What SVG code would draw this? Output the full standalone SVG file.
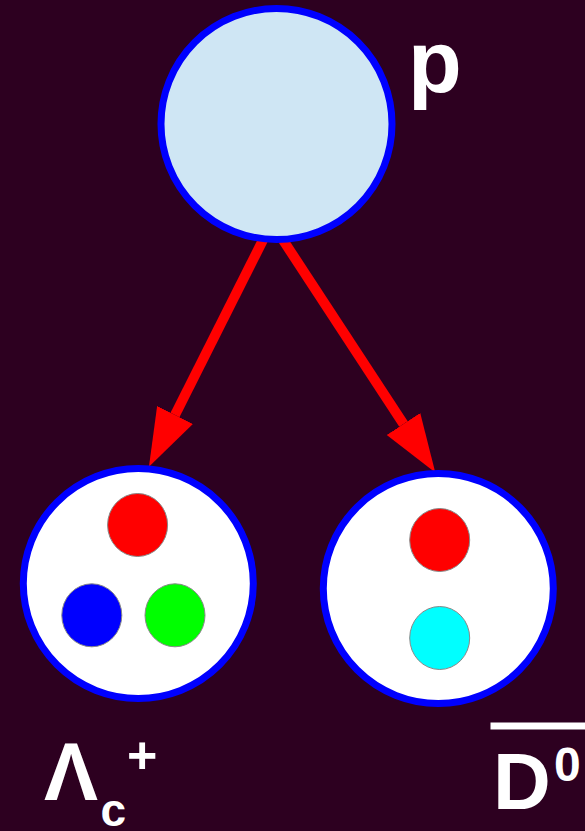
<svg xmlns="http://www.w3.org/2000/svg" width="585" height="831" viewBox="0 0 585 831">
  <style>
    .big { stroke: #0000ff; stroke-width: 7; }
    .quark { stroke: #888888; stroke-width: 1; }
    .arrow { stroke: #ff0000; stroke-width: 10; fill: none; }
    .lbl { font-family: "Liberation Sans", Arial, sans-serif; font-weight: bold; fill: #ffffff; }
  </style>
  <defs>
    <marker id="head" markerUnits="userSpaceOnUse" markerWidth="60" markerHeight="42" viewBox="0 -21 60 42" refX="0" refY="0" orient="auto">
      <path d="M0,-20 L58,0 L0,20 z" fill="#ff0000"/>
    </marker>
  </defs>
  <rect x="0" y="0" width="585" height="831" fill="#2d0020"/>

  <g id="connectors">
    <line class="arrow" x1="263" y1="240" x2="175" y2="415" marker-end="url(#head)"/>
    <line class="arrow" x1="283" y1="240" x2="403.5" y2="424" marker-end="url(#head)"/>
  </g>

  <g id="proton">
    <circle cx="276.5" cy="124" r="115.5" fill="#cfe6f4" class="big"/>
    <text class="lbl" x="408" y="92" font-size="88">p</text>
  </g>

  <g id="lambda_c">
    <circle cx="138.3" cy="583.5" r="115" fill="#ffffff" class="big"/>
    <ellipse class="quark" cx="137.6" cy="525" rx="30" ry="31.5" fill="#ff0000"/>
    <ellipse class="quark" cx="91.8" cy="615.3" rx="30" ry="31.5" fill="#0000ff"/>
    <ellipse class="quark" cx="175" cy="615.3" rx="30" ry="31.5" fill="#00ff00"/>
    <text class="lbl" x="44" y="800" font-size="81">Λ</text>
    <text class="lbl" x="100.5" y="826" font-size="46">c</text>
    <text class="lbl" x="127" y="773" font-size="52">+</text>
  </g>

  <g id="dbar0">
    <circle cx="438.3" cy="588.5" r="115" fill="#ffffff" class="big"/>
    <ellipse class="quark" cx="439.7" cy="540" rx="30" ry="31.5" fill="#ff0000"/>
    <ellipse class="quark" cx="439.7" cy="638" rx="30" ry="31.5" fill="#00ffff"/>
    <rect x="490.5" y="722.5" width="94.5" height="7" fill="#ffffff"/>
    <text class="lbl" x="493" y="809" font-size="80">D</text>
    <text class="lbl" x="554" y="781" font-size="48">0</text>
  </g>
</svg>
